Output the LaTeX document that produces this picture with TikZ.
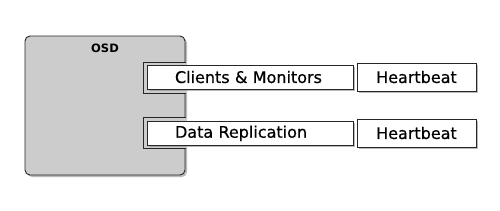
\documentclass[tikz,border=0pt]{standalone}
\usepackage{fontspec}
\setmainfont{DejaVu Sans}
\newfontfamily\labelfont[FakeBold=0.6]{DejaVu Sans}
\usetikzlibrary{positioning, shadows}
\definecolor{osdgray}{RGB}{204, 204, 204}
\tikzset{
  boxshadow/.style={drop shadow={shadow xshift=2pt, shadow yshift=-2pt, fill=black!45, opacity=0.6}},
  osdbox/.style={draw=black!85, line width=0.9pt, fill=osdgray, rounded corners=5pt, boxshadow},
  portbox/.style={draw=black!85, line width=0.9pt, fill=white, boxshadow, inner sep=0pt,
    font=\labelfont\fontsize{16}{19}\selectfont},
  netbox/.style={portbox, inner xsep=28pt, text width=150pt, align=left, minimum height=24pt},
}

\begin{document}
\begin{tikzpicture}[x=1pt, y=-1pt]
  \useasboundingbox (0,0) rectangle (500,210);

  % the OSD daemon
  \node[osdbox, minimum width=160pt, minimum height=139pt] (osd) at (105,105.5) {};
  \node[below=8pt of osd.north, inner sep=0pt, font=\bfseries\fontsize{11.5}{14}\selectfont] (osdname) {OSD};

  % two ports on the right side
  \foreach \y/\name in {62/cport, 117/dport} {
    \fill[osdgray] (143,\y) rectangle (186.5,\y+31);
    \draw[black!85, line width=0.9pt] (186,\y) -- (143,\y) -- (143,\y+31) -- (186,\y+31);
    \coordinate (\name) at (143,\y);
  }

  % networks and their heartbeats
  \node[netbox] (clients) at (250,77) {Clients \& Monitors};
  \node[netbox] (replication) at (250,133.3) {Data Replication};
  \node[portbox, minimum width=119pt, minimum height=28pt] (hbclients) at (416.5,77) {Heartbeat};
  \node[portbox, minimum width=119pt, minimum height=28pt] (hbreplication) at (416.5,133) {Heartbeat};
\end{tikzpicture}
\end{document}
